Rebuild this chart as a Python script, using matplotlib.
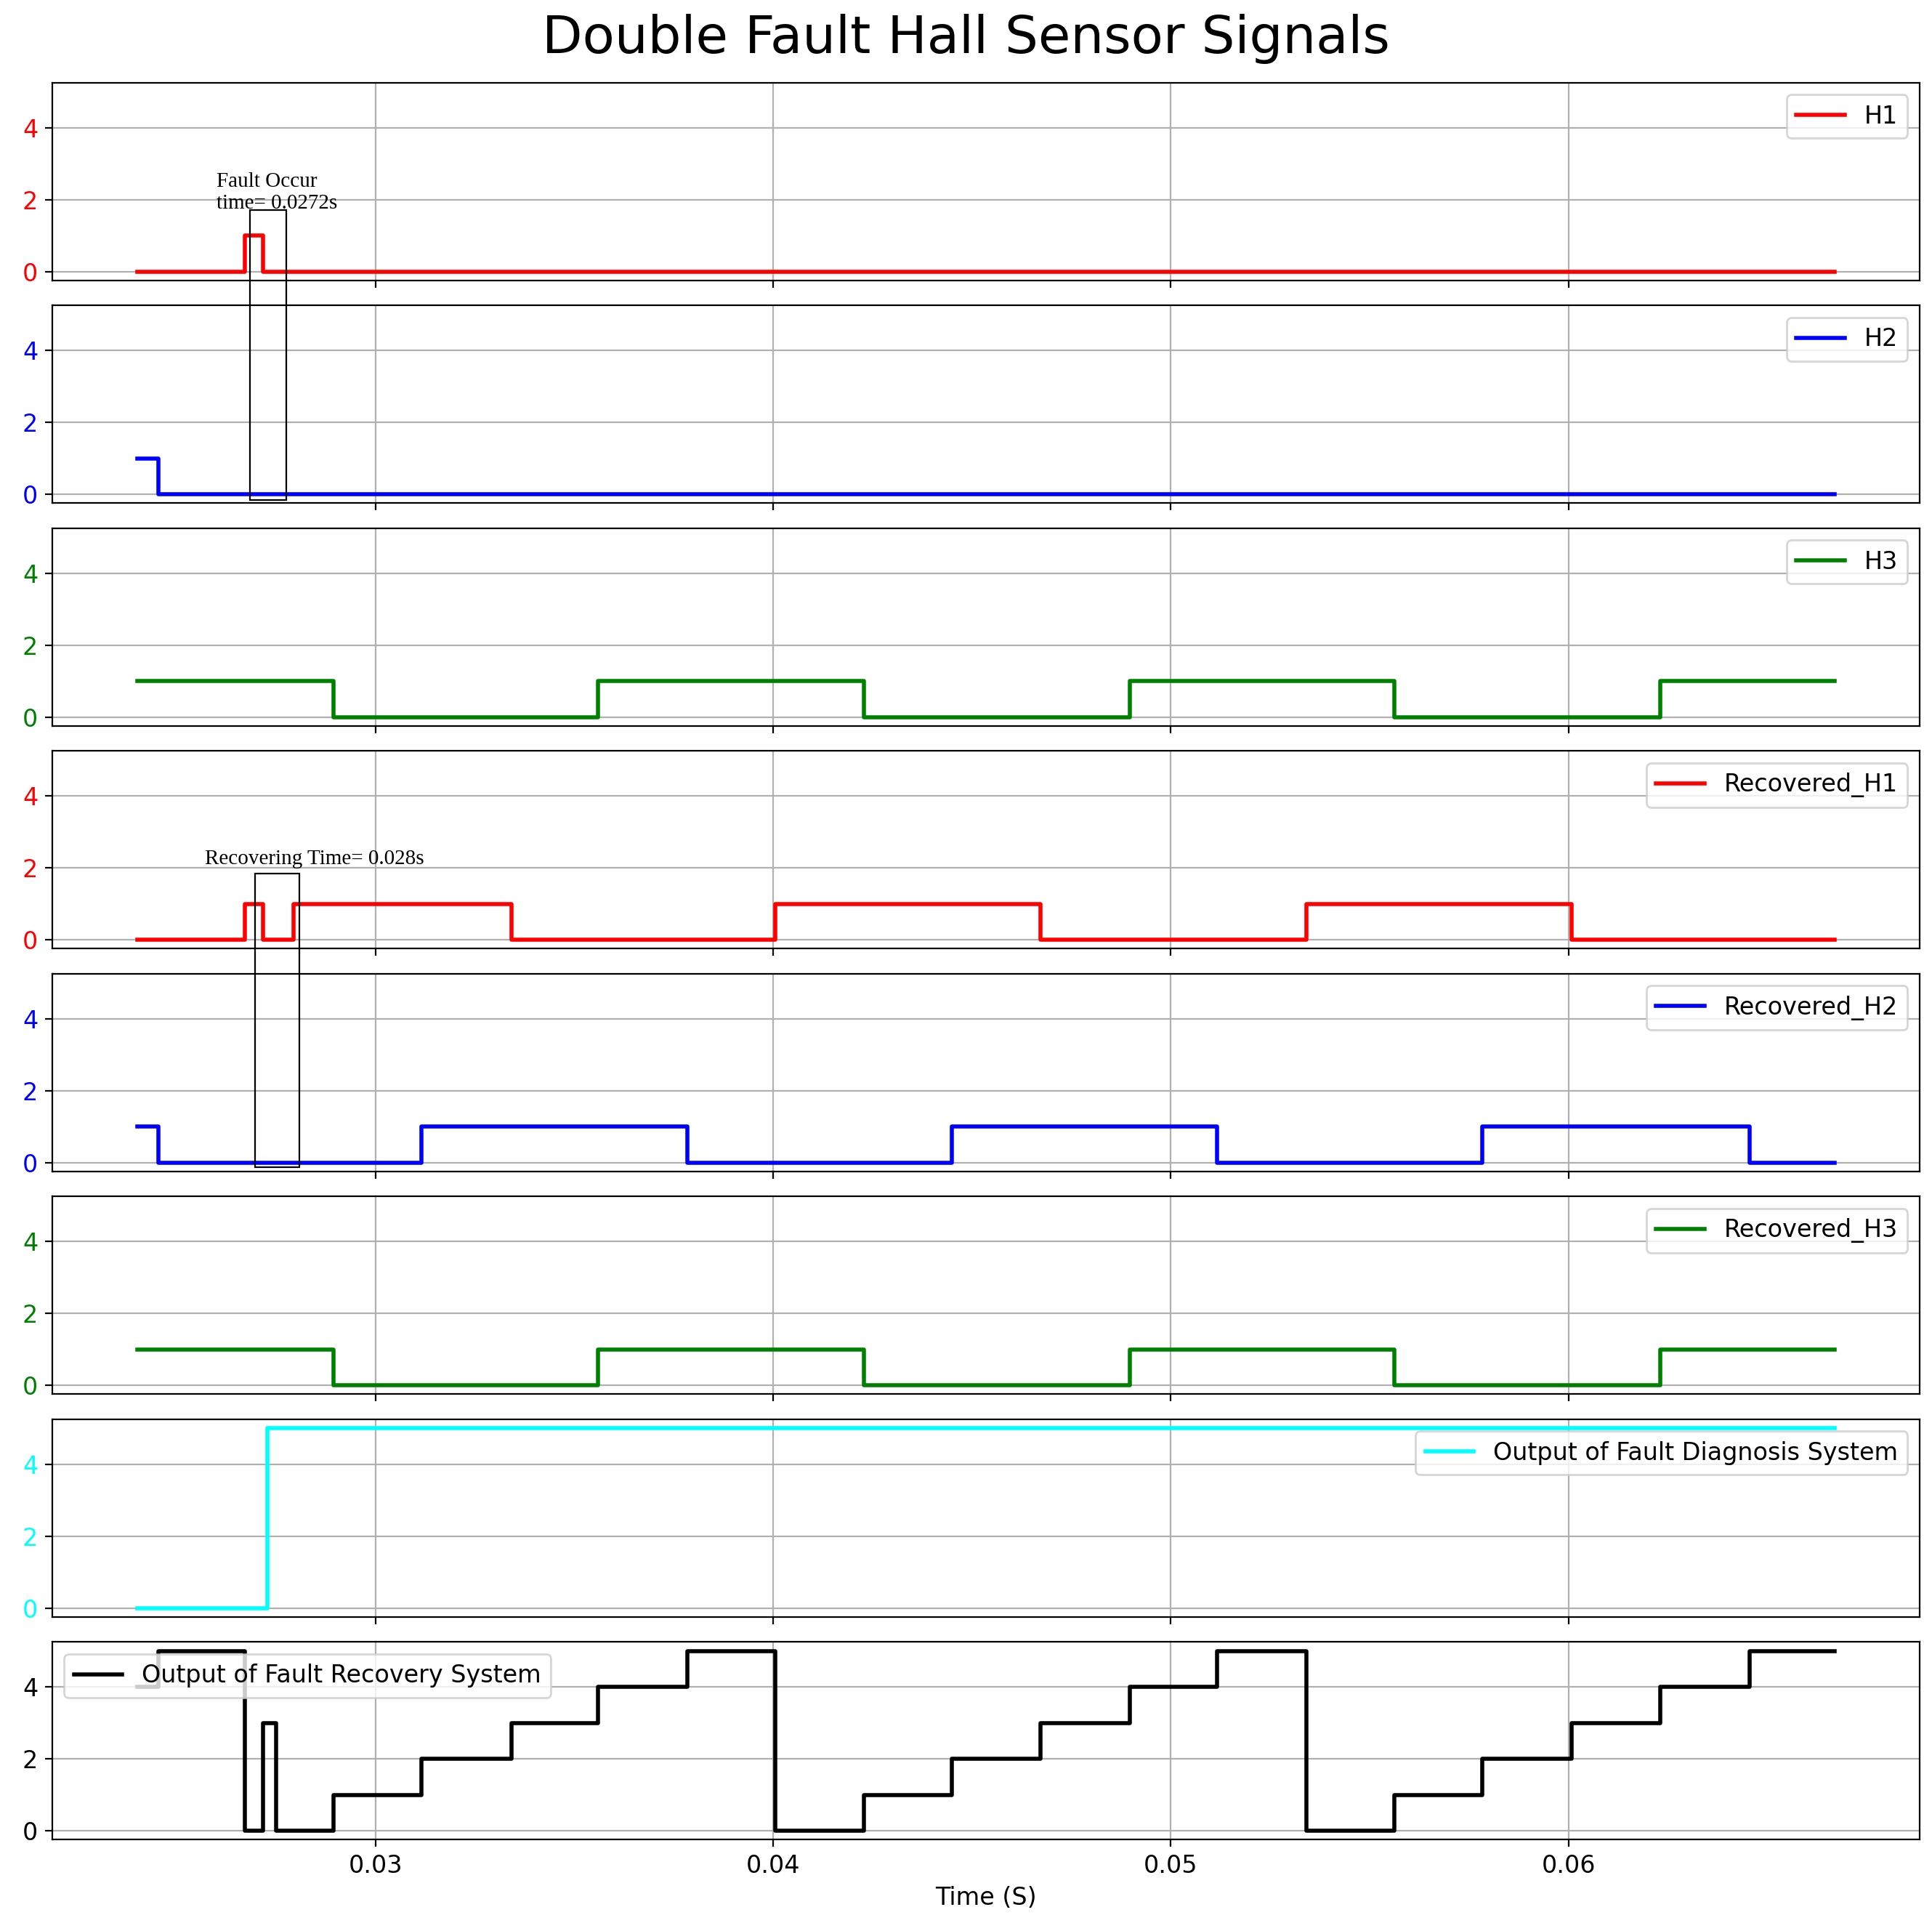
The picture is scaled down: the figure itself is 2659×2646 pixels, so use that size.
import matplotlib
matplotlib.use("Agg")
import matplotlib.pyplot as plt
from matplotlib.patches import Rectangle
import numpy as np

plt.rcParams['font.size'] = 12

t_end = 0.0667
h1_t = [0.024, 0.02672, 0.02716]; h1_v = [0, 1, 0]
h2_t = [0.024, 0.02453]; h2_v = [1, 0]
h3_t = [0.024, 0.02894, 0.0356, 0.04228, 0.04897, 0.05563, 0.06231]; h3_v = [1, 0, 1, 0, 1, 0, 1]
rh1_t = [0.024, 0.02672, 0.02716, 0.02794, 0.03341, 0.04006, 0.04672, 0.05341, 0.06009]
rh1_v = [0, 1, 0, 1, 0, 1, 0, 1, 0]
rh2_t = [0.024, 0.02453, 0.03116, 0.03784, 0.0445, 0.05116, 0.05784, 0.06456]
rh2_v = [1, 0, 1, 0, 1, 0, 1, 0]
fd_t = [0.024, 0.02728]; fd_v = [0, 5]
fr_t = [0.024, 0.02453, 0.02672, 0.02716, 0.0275, 0.02894, 0.03116, 0.03341, 0.0356, 0.03784,
        0.04006, 0.04228, 0.0445, 0.04672, 0.04897, 0.05116, 0.05341, 0.05563, 0.05784, 0.06009,
        0.06231, 0.06456]
fr_v = [4, 5, 0, 3, 0, 1, 2, 3, 4, 5, 0, 1, 2, 3, 4, 5, 0, 1, 2, 3, 4, 5]

series = [(h1_t, h1_v, 'red', 'H1', 'upper right'),
          (h2_t, h2_v, 'blue', 'H2', 'upper right'),
          (h3_t, h3_v, 'green', 'H3', 'upper right'),
          (rh1_t, rh1_v, 'red', 'Recovered_H1', 'upper right'),
          (rh2_t, rh2_v, 'blue', 'Recovered_H2', 'upper right'),
          (h3_t, h3_v, 'green', 'Recovered_H3', 'upper right'),
          (fd_t, fd_v, 'cyan', 'Output of Fault Diagnosis System', 'upper right'),
          (fr_t, fr_v, 'black', 'Output of Fault Recovery System', 'upper left')]

fig, axes = plt.subplots(8, 1, figsize=(13.295, 13.23), dpi=200, sharex=True, sharey=True)
fig.subplots_adjust(left=0.027, right=0.9936, top=0.957, bottom=0.0433, hspace=0.126)
for ax, (t, v, c, lab, loc) in zip(axes, series):
    tt = list(t) + [t_end]; vv = list(v) + [v[-1]]
    ax.plot(tt, vv, drawstyle='steps-post', color=c, lw=2, label=lab)
    ax.grid(True)
    ax.tick_params(axis='y', labelcolor=c)
    ax.legend(loc=loc)
axes[0].set_ylim(-0.25, 5.25)
axes[0].set_yticks([0, 2, 4])
axes[-1].set_xlabel('Time (S)')
fig.suptitle('Double Fault Hall Sensor Signals', fontsize=26, y=0.993)

def box(ax_top, ax_bot, x0, x1, ytop, ybot):
    fig.canvas.draw()
    inv = fig.transFigure.inverted()
    p0 = inv.transform(ax_top.transData.transform((x0, ytop)))
    p1 = inv.transform(ax_bot.transData.transform((x1, ybot)))
    fig.add_artist(Rectangle((p0[0], p1[1]), p1[0]-p0[0], p0[1]-p1[1], transform=fig.transFigure,
                             fill=False, ec='black', lw=0.8))

box(axes[0], axes[1], 0.02684, 0.02775, 1.7, -0.15)
box(axes[3], axes[4], 0.02697, 0.02809, 1.85, -0.12)
axes[0].text(0.0260, 1.75, 'Fault Occur\ntime= 0.0272s', family='Liberation Serif', fontsize=10.5)
axes[3].text(0.0257, 2.1, 'Recovering Time= 0.028s', family='Liberation Serif', fontsize=10.5)
fig.savefig('out.png')
